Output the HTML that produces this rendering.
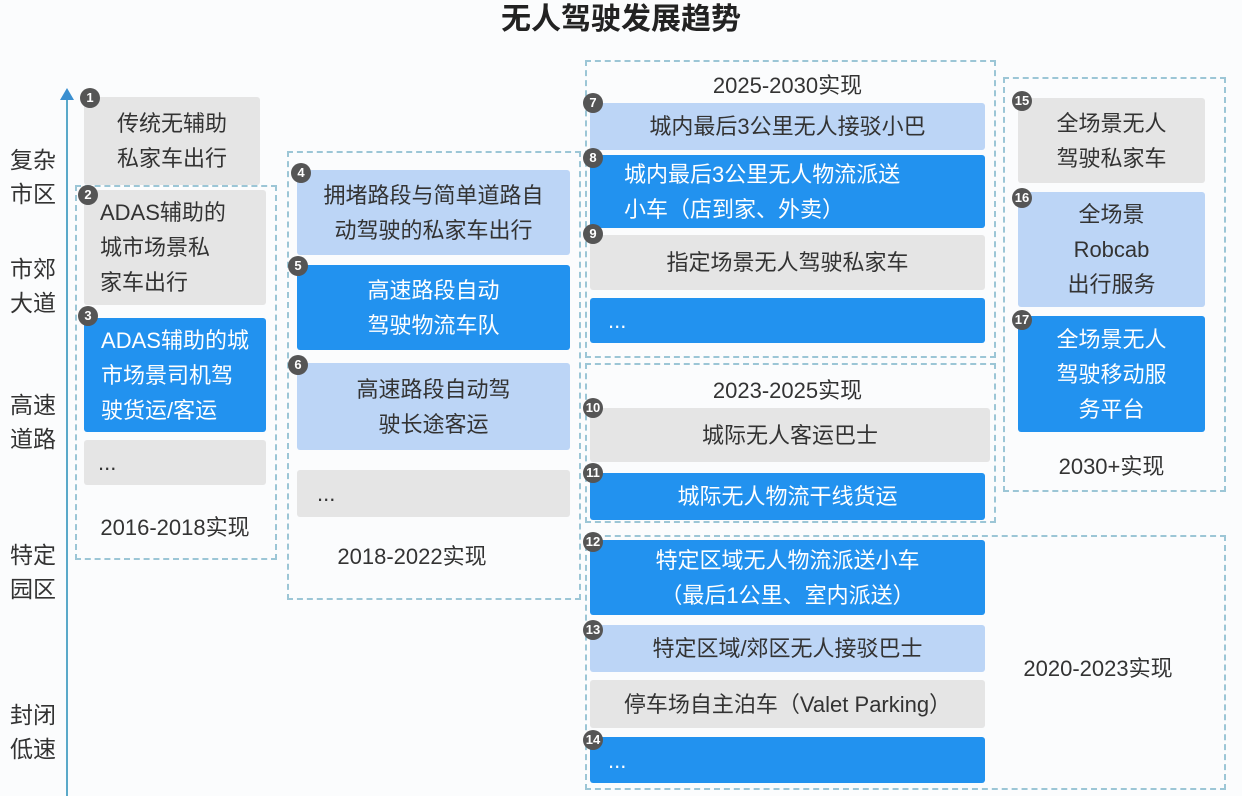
<!DOCTYPE html>
<html><head><meta charset="utf-8"><style>
*{margin:0;padding:0;box-sizing:border-box}
body{width:1242px;height:794px;background:#fbfcfd;position:relative;overflow:hidden;font-family:"Liberation Sans","Noto Sans CJK SC",sans-serif;color:#333}
.t{position:absolute;font-size:22px;line-height:34px;text-align:center}
.b{position:absolute;display:flex;align-items:center;justify-content:center;text-align:center;font-size:22px;line-height:35px;border-radius:3px;padding:0 6px}
.g{background:#e5e5e5;color:#333}
.l{background:#bcd5f6;color:#333}
.u{background:#2292ef;color:#fff}
.d{position:absolute;border:2px dashed #9cc6d6}
.n{position:absolute;width:20px;height:20px;border-radius:50%;background:#555;color:#fff;font-size:13px;line-height:20px;text-align:center;font-weight:bold}
.y{position:absolute;font-size:22px;color:#333}
.ax{position:absolute;font-size:23px;line-height:34px;color:#333}
</style></head><body>
<div class="t" style="left:0;width:1242px;top:3px;font-size:30px;font-weight:bold;color:#222">无人驾驶发展趋势</div>
<div style="position:absolute;left:66px;top:96px;width:2px;height:700px;background:#5aa9c9"></div>
<div style="position:absolute;left:60px;top:88px;width:0;height:0;border-left:7px solid transparent;border-right:7px solid transparent;border-bottom:12px solid #3a8fd0"></div>
<div class="ax" style="left:10px;top:143px">复杂<br>市区</div>
<div class="ax" style="left:10px;top:252px">市郊<br>大道</div>
<div class="ax" style="left:10px;top:388px">高速<br>道路</div>
<div class="ax" style="left:10px;top:538px">特定<br>园区</div>
<div class="ax" style="left:10px;top:698px">封闭<br>低速</div>

<div class="d" style="left:75px;top:185px;width:202px;height:375px"></div>
<div class="d" style="left:287px;top:151px;width:294px;height:449px"></div>
<div class="d" style="left:585px;top:60px;width:411px;height:298px"></div>
<div class="d" style="left:585px;top:363px;width:411px;height:160px"></div>
<div class="d" style="left:585px;top:535px;width:641px;height:255px"></div>
<div class="d" style="left:1003px;top:77px;width:223px;height:415px"></div>

<div class="b g" style="left:84px;top:97px;width:176px;height:88px">传统无辅助<br>私家车出行</div>
<div class="b g" style="left:84px;top:190px;width:182px;height:115px;justify-content:flex-start;text-align:left;padding-left:16px">ADAS辅助的<br>城市场景私<br>家车出行</div>
<div class="b u" style="left:84px;top:318px;width:182px;height:114px;text-align:left;padding:0 4px">ADAS辅助的城<br>市场景司机驾<br>驶货运/客运</div>
<div class="b g" style="left:84px;top:440px;width:182px;height:45px;justify-content:flex-start;padding-left:14px">...</div>
<div class="y" style="left:84px;top:510px;width:182px;text-align:center">2016-2018实现</div>

<div class="b l" style="left:297px;top:170px;width:273px;height:85px">拥堵路段与简单道路自<br>动驾驶的私家车出行</div>
<div class="b u" style="left:297px;top:265px;width:273px;height:85px">高速路段自动<br>驾驶物流车队</div>
<div class="b l" style="left:297px;top:363px;width:273px;height:87px">高速路段自动驾<br>驶长途客运</div>
<div class="b g" style="left:297px;top:470px;width:273px;height:47px;justify-content:flex-start;padding-left:20px">...</div>
<div class="y" style="left:297px;top:539px;width:230px;text-align:center">2018-2022实现</div>

<div class="y" style="left:590px;top:68px;width:395px;text-align:center">2025-2030实现</div>
<div class="b l" style="left:590px;top:103px;width:395px;height:47px">城内最后3公里无人接驳小巴</div>
<div class="b u" style="left:590px;top:155px;width:395px;height:73px;justify-content:flex-start;text-align:left;padding-left:34px">城内最后3公里无人物流派送<br>小车（店到家、外卖）</div>
<div class="b g" style="left:590px;top:235px;width:395px;height:55px">指定场景无人驾驶私家车</div>
<div class="b u" style="left:590px;top:298px;width:395px;height:45px;justify-content:flex-start;padding-left:18px">...</div>

<div class="y" style="left:590px;top:373px;width:395px;text-align:center">2023-2025实现</div>
<div class="b g" style="left:590px;top:408px;width:400px;height:54px">城际无人客运巴士</div>
<div class="b u" style="left:590px;top:473px;width:395px;height:47px">城际无人物流干线货运</div>

<div class="b u" style="left:590px;top:540px;width:395px;height:75px">特定区域无人物流派送小车<br>（最后1公里、室内派送）</div>
<div class="b l" style="left:590px;top:625px;width:395px;height:47px">特定区域/郊区无人接驳巴士</div>
<div class="b g" style="left:590px;top:680px;width:395px;height:48px">停车场自主泊车（Valet Parking）</div>
<div class="b u" style="left:590px;top:737px;width:395px;height:46px;justify-content:flex-start;padding-left:18px">...</div>
<div class="y" style="left:1003px;top:651px;width:190px;text-align:center">2020-2023实现</div>

<div class="b g" style="left:1018px;top:98px;width:187px;height:85px">全场景无人<br>驾驶私家车</div>
<div class="b l" style="left:1018px;top:192px;width:187px;height:115px">全场景<br>Robcab<br>出行服务</div>
<div class="b u" style="left:1018px;top:316px;width:187px;height:116px">全场景无人<br>驾驶移动服<br>务平台</div>
<div class="y" style="left:1018px;top:449px;width:187px;text-align:center">2030+实现</div>

<div class="n" style="left:80px;top:88px">1</div>
<div class="n" style="left:78px;top:185px">2</div>
<div class="n" style="left:78px;top:306px">3</div>
<div class="n" style="left:291px;top:163px">4</div>
<div class="n" style="left:288px;top:256px">5</div>
<div class="n" style="left:288px;top:355px">6</div>
<div class="n" style="left:583px;top:93px">7</div>
<div class="n" style="left:583px;top:148px">8</div>
<div class="n" style="left:583px;top:224px">9</div>
<div class="n" style="left:583px;top:398px">10</div>
<div class="n" style="left:583px;top:463px">11</div>
<div class="n" style="left:583px;top:532px">12</div>
<div class="n" style="left:583px;top:620px">13</div>
<div class="n" style="left:583px;top:730px">14</div>
<div class="n" style="left:1012px;top:91px">15</div>
<div class="n" style="left:1012px;top:188px">16</div>
<div class="n" style="left:1012px;top:310px">17</div>
</body></html>
